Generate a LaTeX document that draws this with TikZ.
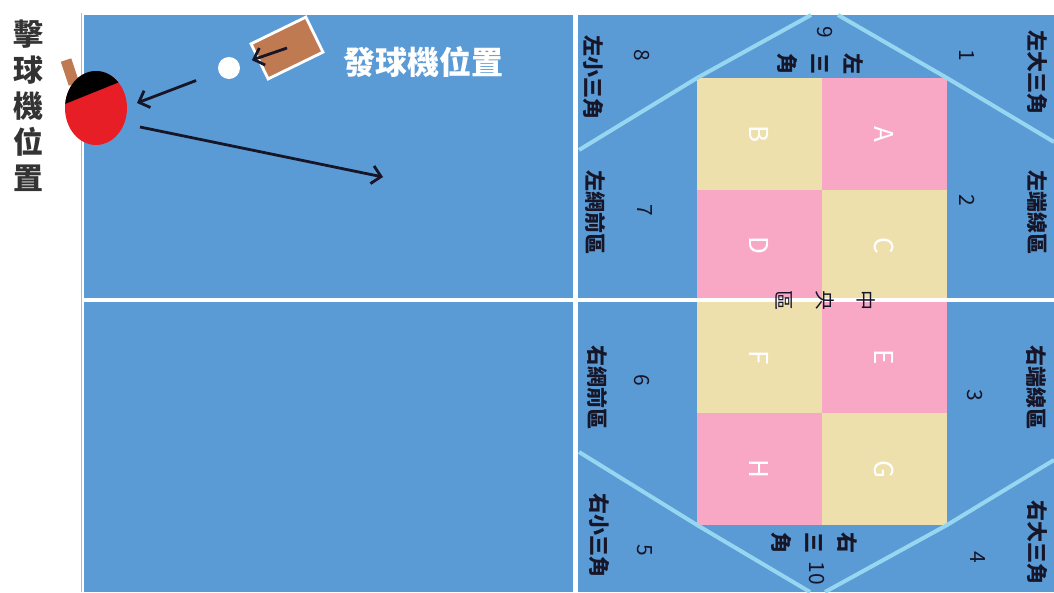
\documentclass[tikz,border=0pt]{standalone}
\usepackage{fontspec}
\setmainfont{Noto Sans CJK TC}
\usetikzlibrary{arrows.meta, shapes.geometric}

\definecolor{tableblue}{RGB}{91,155,213}
\definecolor{zonepink}{RGB}{248,168,196}
\definecolor{zonetan}{RGB}{238,224,172}
\definecolor{guideline}{RGB}{150,214,240}
\definecolor{rubber}{RGB}{232,30,38}
\definecolor{wood}{RGB}{192,122,82}
\definecolor{ink}{RGB}{22,22,40}

\tikzset{
  letter/.style={rotate=-90, text=white, font=\fontsize{26}{26}\selectfont},
  tag/.style={rotate=-90, text=ink, font=\bfseries\fontsize{21}{21}\selectfont, inner sep=0pt},
  num/.style={tag, font=\fontsize{21}{21}\selectfont},
  stack/.style={tag, align=center, font=\bfseries\fontsize{21}{33}\selectfont},
  guide/.style={guideline, line width=4pt},
  stroke/.style={draw=ink, line width=2.8pt, -{Straight Barb[length=9pt,width=18pt]}},
}

\begin{document}
\begin{tikzpicture}[x=1pt, y=-1pt]
  \useasboundingbox (0,0) rectangle (1054,592);

  % table and net
  \fill[tableblue] (84,15) rectangle (1054,592);
  \draw[gray!55, line width=1.5pt] (81.5,13) -- (81.5,592);
  \draw[white, line width=4.5pt] (575.5,15) -- (575.5,592);

  % the eight target zones
  \foreach \lab/\col/\row/\clr in {A/1/0/zonepink, B/0/0/zonetan, C/1/1/zonetan, D/0/1/zonepink,
                                   E/1/2/zonepink, F/0/2/zonetan, G/1/3/zonetan, H/0/3/zonepink}{
    \fill[\clr] (697+125*\col, 78+111.75*\row) rectangle ++(125,111.75);
    \node[letter] (zone\lab) at (759.5+125*\col, 133.9+111.75*\row) {\lab};
  }

  % centre line
  \draw[white, line width=3.5pt] (84,300) -- (1054,300);

  % corner triangles
  \draw[guide] (579,150) -- (697,78) -- (811,15);
  \draw[guide] (838,15) -- (947,78) -- (1054,142);
  \draw[guide] (579,452) -- (697,525) -- (810,592);
  \draw[guide] (825,592) -- (947,525) -- (1054,460);

  % zone names, end line side
  \node[tag] (big1)  at (1037,72)  {左大三角};
  \node[num] (n1)    at (967,55)   {1};
  \node[tag] (end2)  at (1037,212) {左端線區};
  \node[num] (n2)    at (967,200)  {2};
  \node[tag] (end3)  at (1036,387) {右端線區};
  \node[num] (n3)    at (975,395)  {3};
  \node[tag] (big4)  at (1037,542) {右大三角};
  \node[num] (n4)    at (978,557)  {4};

  % zone names, net side
  \node[tag] (small8) at (593,77)  {左小三角};
  \node[num] (n8)     at (642,55)  {8};
  \node[tag] (net7)   at (595,212) {左網前區};
  \node[num] (n7)     at (645,210) {7};
  \node[tag] (net6)   at (597,387) {右網前區};
  \node[num] (n6)     at (642,380) {6};
  \node[tag] (small5) at (599,535) {右小三角};
  \node[num] (n5)     at (645,550) {5};

  % middle triangles and centre area
  \node[num]   (n9)     at (825,32)  {9};
  \node[stack] (tri9)   at (820,64)  {左\\三\\角};
  \node[num]   (n10)    at (817,573) {10};
  \node[stack] (tri10)  at (814,543) {右\\三\\角};
  \node[stack, font=\fontsize{20}{41}\selectfont] (middle) at (826,300) {中\\央\\區};

  % bat
  \draw[wood, line width=11pt] (66,60) -- (74,84);
  \node[ellipse, fill=rubber, minimum width=62pt, minimum height=74pt, inner sep=0pt] (bat) at (96,108) {};
  \begin{scope}
    \clip (96,108) ellipse [x radius=31pt, y radius=37pt];
    \fill[black] (55,60) -- (55,108) -- (122,81) -- (135,60) -- cycle;
  \end{scope}

  % ball and serving machine
  \node[circle, fill=white, minimum size=22pt, inner sep=0pt] (ball) at (229,68) {};
  \node[draw=white, line width=2.8pt, fill=wood, minimum width=61pt, minimum height=39pt, rotate=26] (feeder) at (287,48) {};
  \node[text=white, font=\bfseries\fontsize{32}{32}\selectfont] (feedlabel) at (423,62) {發球機位置};

  \node[text=black!80, align=center, anchor=north, font=\bfseries\fontsize{30}{36}\selectfont] (hitlabel) at (28,16) {擊\\球\\機\\位\\置};

  % ball path
  \coordinate (catch) at (137,103);
  \coordinate (swing) at (140,127);
  \coordinate (land)  at (383,177);
  \draw[stroke, shorten >=13pt] (feeder.center) -- (ball);
  \draw[stroke, shorten <=24pt] (ball) -- (catch);
  \draw[stroke] (swing) -- (land);
\end{tikzpicture}
\end{document}
